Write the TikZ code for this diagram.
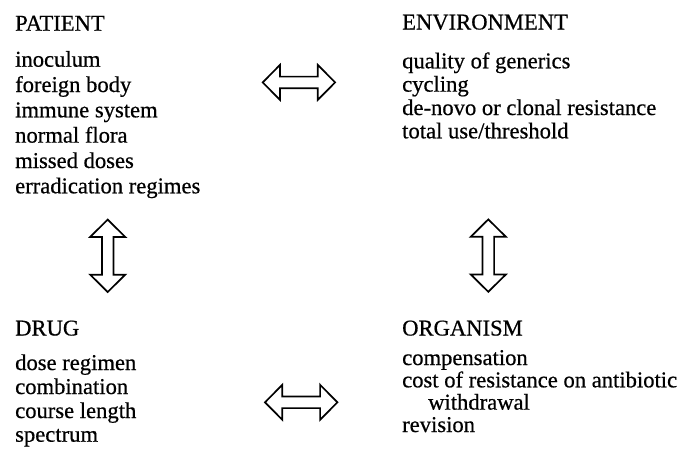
\documentclass[tikz,border=0pt]{standalone}
\usepackage{fontspec}
\setmainfont[FakeBold=0.6]{Liberation Serif}
\begin{document}
\begin{tikzpicture}[x=1pt,y=-1pt,
  txt/.style={anchor=base west,inner sep=0pt,font=\fontsize{22.6}{25}\selectfont},
  arrowline/.style={draw=black,line width=1.7pt,line join=miter,fill=white},
  dblarrow/.pic={\path[arrowline] (-36.2,0) -- (-18.9,-17.5) -- (-18.9,-5.8) -- (18.9,-5.8) -- (18.9,-17.5) -- (36.2,0) -- (18.9,17.5) -- (18.9,5.8) -- (-18.9,5.8) -- (-18.9,17.5) -- cycle;}]
\useasboundingbox (0,0) rectangle (692,451);
% PATIENT
\node[txt] (pH) at (15,30.7) {PATIENT};
\node[txt] (p1) at (15,66.7) {inoculum};
\node[txt] (p2) at (15,92) {foreign body};
\node[txt] (p3) at (15,117.3) {immune system};
\node[txt] (p4) at (15,142.6) {normal flora};
\node[txt] (p5) at (15,168) {missed doses};
\node[txt] (p6) at (15,193.3) {erradication regimes};
% ENVIRONMENT
\node[txt] (eH) at (402,29.5) {ENVIRONMENT};
\node[txt] (e1) at (402,68.3) {quality of generics};
\node[txt] (e2) at (402,91.6) {cycling};
\node[txt] (e3) at (402,115) {de-novo or clonal resistance};
\node[txt] (e4) at (402,138.3) {total use/threshold};
% DRUG
\node[txt] (dH) at (15,335.5) {DRUG};
\node[txt] (d1) at (15,370) {dose regimen};
\node[txt] (d2) at (15,394) {combination};
\node[txt] (d3) at (15,418) {course length};
\node[txt] (d4) at (15,441.7) {spectrum};
% ORGANISM
\node[txt] (oH) at (402,335.5) {ORGANISM};
\node[txt] (o1) at (402,365) {compensation};
\node[txt] (o2) at (402,387.3) {cost of resistance on antibiotic};
\node[txt] (o3) at (428,409.6) {withdrawal};
\node[txt] (o4) at (402,432) {revision};
% arrows
\pic at (298.9,82.4) {dblarrow};
\pic at (301.2,402.3) {dblarrow};
\pic[rotate=90] at (107.7,255.8) {dblarrow};
\pic[rotate=90] at (488.3,255.6) {dblarrow};
\end{tikzpicture}
\end{document}
